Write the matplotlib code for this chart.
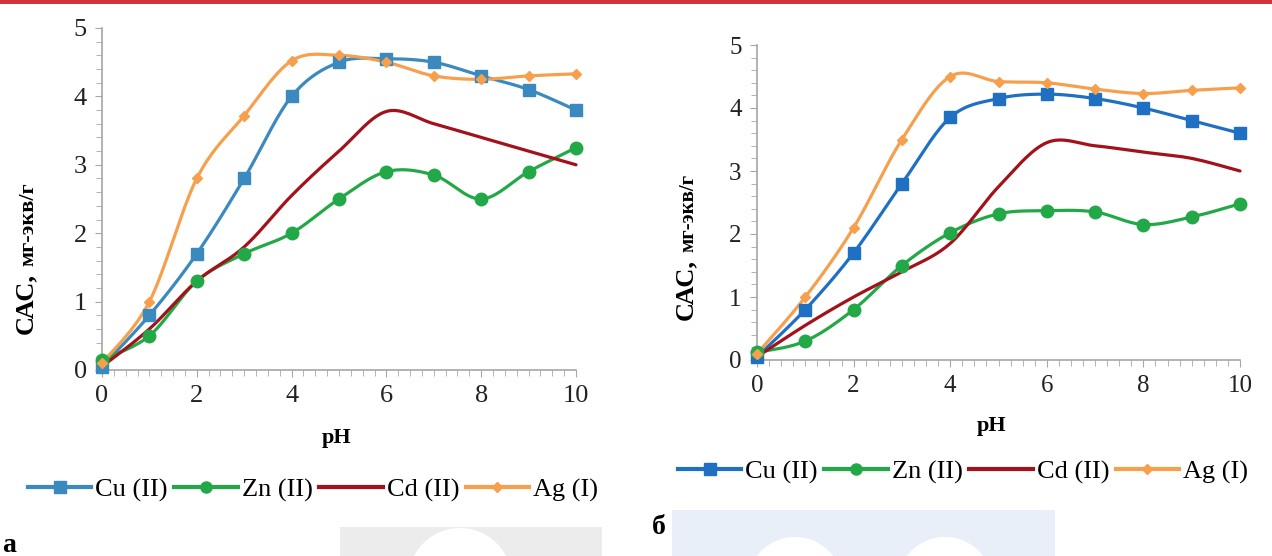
import numpy as np
import matplotlib
matplotlib.use("Agg")
import matplotlib.pyplot as plt
from matplotlib.lines import Line2D
from matplotlib.patches import Rectangle, Circle
from matplotlib.ticker import MultipleLocator

plt.rcParams['font.family'] = ['Liberation Serif', 'DejaVu Serif']

ph = [0, 1, 2, 3, 4, 5, 6, 7, 8, 9, 10]
series_names = ["Cu (II)", "Zn (II)", "Cd (II)", "Ag (I)"]

# panel a
cu_a = [0.05, 0.8, 1.7, 2.8, 4.0, 4.5, 4.55, 4.5, 4.3, 4.1, 3.8]
zn_a = [0.15, 0.5, 1.3, 1.7, 2.0, 2.5, 2.9, 2.85, 2.5, 2.9, 3.25]
cd_a = [0.05, 0.6, 1.3, 1.8, 2.55, 3.2, 3.78, 3.6, 3.4, 3.2, 3.0]
ag_a = [0.1, 1.0, 2.8, 3.72, 4.52, 4.6, 4.5, 4.3, 4.25, 4.3, 4.33]

# panel b
cu_b = [0.05, 0.8, 1.7, 2.8, 3.85, 4.15, 4.22, 4.15, 4.0, 3.8, 3.6]
zn_b = [0.12, 0.3, 0.8, 1.5, 2.02, 2.32, 2.37, 2.35, 2.15, 2.27, 2.48]
cd_b = [0.05, 0.55, 1.0, 1.4, 1.85, 2.75, 3.45, 3.4, 3.3, 3.2, 3.0]
ag_b = [0.1, 1.0, 2.1, 3.5, 4.5, 4.42, 4.4, 4.3, 4.23, 4.28, 4.32]


def smooth(x, y, n=20):
    # Excel-like smoothed line (Catmull-Rom through the points)
    x = np.asarray(x, float)
    y = np.asarray(y, float)
    px = np.concatenate([[x[0]], x, [x[-1]]])
    py = np.concatenate([[y[0]], y, [y[-1]]])
    xs, ys = [], []
    t = np.linspace(0, 1, n)
    for i in range(1, len(px) - 2):
        p0 = np.array([px[i], py[i]])
        p3 = np.array([px[i + 1], py[i + 1]])
        c1 = p0 + (np.array([px[i + 1], py[i + 1]]) - np.array([px[i - 1], py[i - 1]])) / 6
        c2 = p3 - (np.array([px[i + 2], py[i + 2]]) - np.array([px[i], py[i]])) / 6
        b = ((1 - t) ** 3)[:, None] * p0 + (3 * (1 - t) ** 2 * t)[:, None] * c1 \
            + (3 * (1 - t) * t ** 2)[:, None] * c2 + (t ** 3)[:, None] * p3
        xs.extend(b[:, 0])
        ys.extend(b[:, 1])
    return xs, ys


def draw_panel(ax, data, cu_color, tick_size):
    styles = [
        dict(color=cu_color, marker='s', ms=9),
        dict(color='#23a847', marker='o', ms=9),
        dict(color='#a3121a', marker=None, ms=0),
        dict(color='#f6a04d', marker='D', ms=5.5),
    ]
    for i in range(4):
        y = data[i]
        st = styles[i]
        xs, ys = smooth(ph, y)
        ax.plot(xs, ys, color=st['color'], lw=2.3, solid_capstyle='round', clip_on=False, zorder=3)
        if st['marker']:
            ax.plot(ph, y, ls='none', marker=st['marker'], ms=st['ms'], color=st['color'],
                    mec=st['color'], clip_on=False, zorder=4)
    ax.set_xlim(0, 10)
    ax.set_ylim(0, 5)
    ax.xaxis.set_major_locator(MultipleLocator(2))
    ax.xaxis.set_minor_locator(MultipleLocator(0.25))
    ax.yaxis.set_major_locator(MultipleLocator(1))
    ax.yaxis.set_minor_locator(MultipleLocator(0.2))
    for s in ['top', 'right']:
        ax.spines[s].set_visible(False)
    for s in ['left', 'bottom']:
        ax.spines[s].set_color('#a6a6a6')
        ax.spines[s].set_linewidth(1.2)
    ax.tick_params(which='major', direction='out', length=5, color='#a6a6a6',
                   labelsize=tick_size, labelcolor='#222222', pad=6)
    ax.tick_params(which='minor', direction='out', length=4, color='#a6a6a6')
    ax.set_facecolor('none')


W, H = 1272, 556
fig = plt.figure(figsize=(W / 100, H / 100), dpi=100)

ax1 = fig.add_axes([102 / W, 1 - 370 / H, 474 / W, 342 / H])
ax2 = fig.add_axes([757 / W, 1 - 360 / H, 483 / W, 315 / H])

draw_panel(ax1, [cu_a, zn_a, cd_a, ag_a], '#3a89bf', 19)
draw_panel(ax2, [cu_b, zn_b, cd_b, ag_b], '#1f6fc2', 18)

# top red rule
fig.add_artist(Rectangle((0, 1 - 4 / H), 1, 4 / H, transform=fig.transFigure,
                         color='#d2343c', lw=0))

# faint watermark shapes at the bottom
fig.add_artist(Rectangle((340 / W, 0), 262 / W, 29 / H, transform=fig.transFigure,
                         color='#ececec', lw=0, zorder=0))
fig.add_artist(Rectangle((672 / W, 0), 383 / W, 46 / H, transform=fig.transFigure,
                         color='#e9eff8', lw=0, zorder=0))
wm = fig.add_axes([0, 0, 1, 1], zorder=0)
wm.set_xlim(0, W)
wm.set_ylim(H, 0)
wm.axis('off')
wm.add_patch(Circle((460, 580), 52, color='white', lw=0))
wm.add_patch(Circle((795, 585), 48, color='white', lw=0))
wm.add_patch(Circle((945, 585), 48, color='white', lw=0))
for a in (ax1, ax2):
    a.set_zorder(2)

# axis titles
fig.text(26 / W, 1 - 334 / H, "САС,", rotation=90, ha='center', va='bottom',
         fontsize=19, fontweight='bold')
fig.text(28 / W, 1 - 266 / H, "мг-экв/г", rotation=90, ha='center', va='bottom',
         fontsize=16, fontweight='bold')
fig.text(686 / W, 1 - 320 / H, "САС,", rotation=90, ha='center', va='bottom',
         fontsize=19, fontweight='bold')
fig.text(688 / W, 1 - 252 / H, "мг-экв/г", rotation=90, ha='center', va='bottom',
         fontsize=15, fontweight='bold')
fig.text(337 / W, 1 - 438 / H, "pH", ha='center', va='center', fontsize=16, fontweight='bold')
fig.text(992 / W, 1 - 426 / H, "pH", ha='center', va='center', fontsize=16, fontweight='bold')


def legend_handles(cu_color):
    return [
        Line2D([], [], color=cu_color, lw=3, marker='s', ms=8),
        Line2D([], [], color='#23a847', lw=3, marker='o', ms=8),
        Line2D([], [], color='#a3121a', lw=3),
        Line2D([], [], color='#f6a04d', lw=3, marker='D', ms=5),
    ]


fig.legend(legend_handles('#3a89bf'), series_names, loc='center', ncol=4,
           bbox_to_anchor=(313 / W, 1 - 490 / H), frameon=False, fontsize=19,
           handlelength=2.4, handletextpad=0.15, columnspacing=0.25)
fig.legend(legend_handles('#1f6fc2'), series_names, loc='center', ncol=4,
           bbox_to_anchor=(963 / W, 1 - 472 / H), frameon=False, fontsize=19,
           handlelength=2.4, handletextpad=0.15, columnspacing=0.25)

fig.text(2 / W, 1 - 545 / H, "а", ha='left', va='center', fontsize=20, fontweight='bold')
fig.text(652 / W, 1 - 528 / H, "б", ha='left', va='center', fontsize=20, fontweight='bold')

fig.savefig("out.png", dpi=100)
